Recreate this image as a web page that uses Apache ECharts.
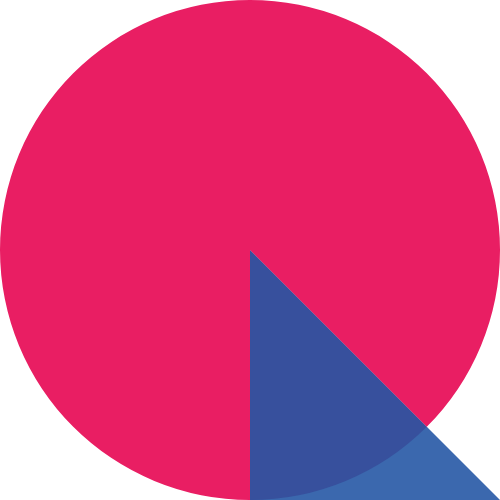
<!DOCTYPE html>
<html>
<head>
<meta charset="utf-8">
<script src="https://cdn.jsdelivr.net/npm/echarts@6/dist/echarts.min.js"></script>
<style>
html, body { margin: 0; padding: 0; background: #fff; }
#chart { width: 500px; height: 500px; }
</style>
</head>
<body>
<div id="chart"></div>
<script>
var names = ['B', 'A'];
var innerValues = [1, 7];
var outerValues = [1, 7];
var innerColors = ['#37509d', '#e91e63'];
var outerColors = ['#3b68ae', 'rgba(0,0,0,0)'];

function buildData(values, colors){
	var list = [];
	for (var i = 0; i < values.length; i++) {
		list.push({ name: names[i], value: values[i], itemStyle: { color: colors[i] } });
	}
	return list;
}

var chart = echarts.init(document.getElementById('chart'));
var option = {
	animation: false,
	series: [
		{
			type: 'pie',
			radius: [0, 380],
			center: [250, 250],
			startAngle: -45,
			label: { show: false },
			labelLine: { show: false },
			silent: true,
			data: buildData(outerValues, outerColors)
		},
		{
			type: 'pie',
			radius: [0, 250],
			center: [250, 250],
			startAngle: -45,
			label: { show: false },
			labelLine: { show: false },
			silent: true,
			data: buildData(innerValues, innerColors)
		}
	]
};
chart.setOption(option);
</script>
</body>
</html>
